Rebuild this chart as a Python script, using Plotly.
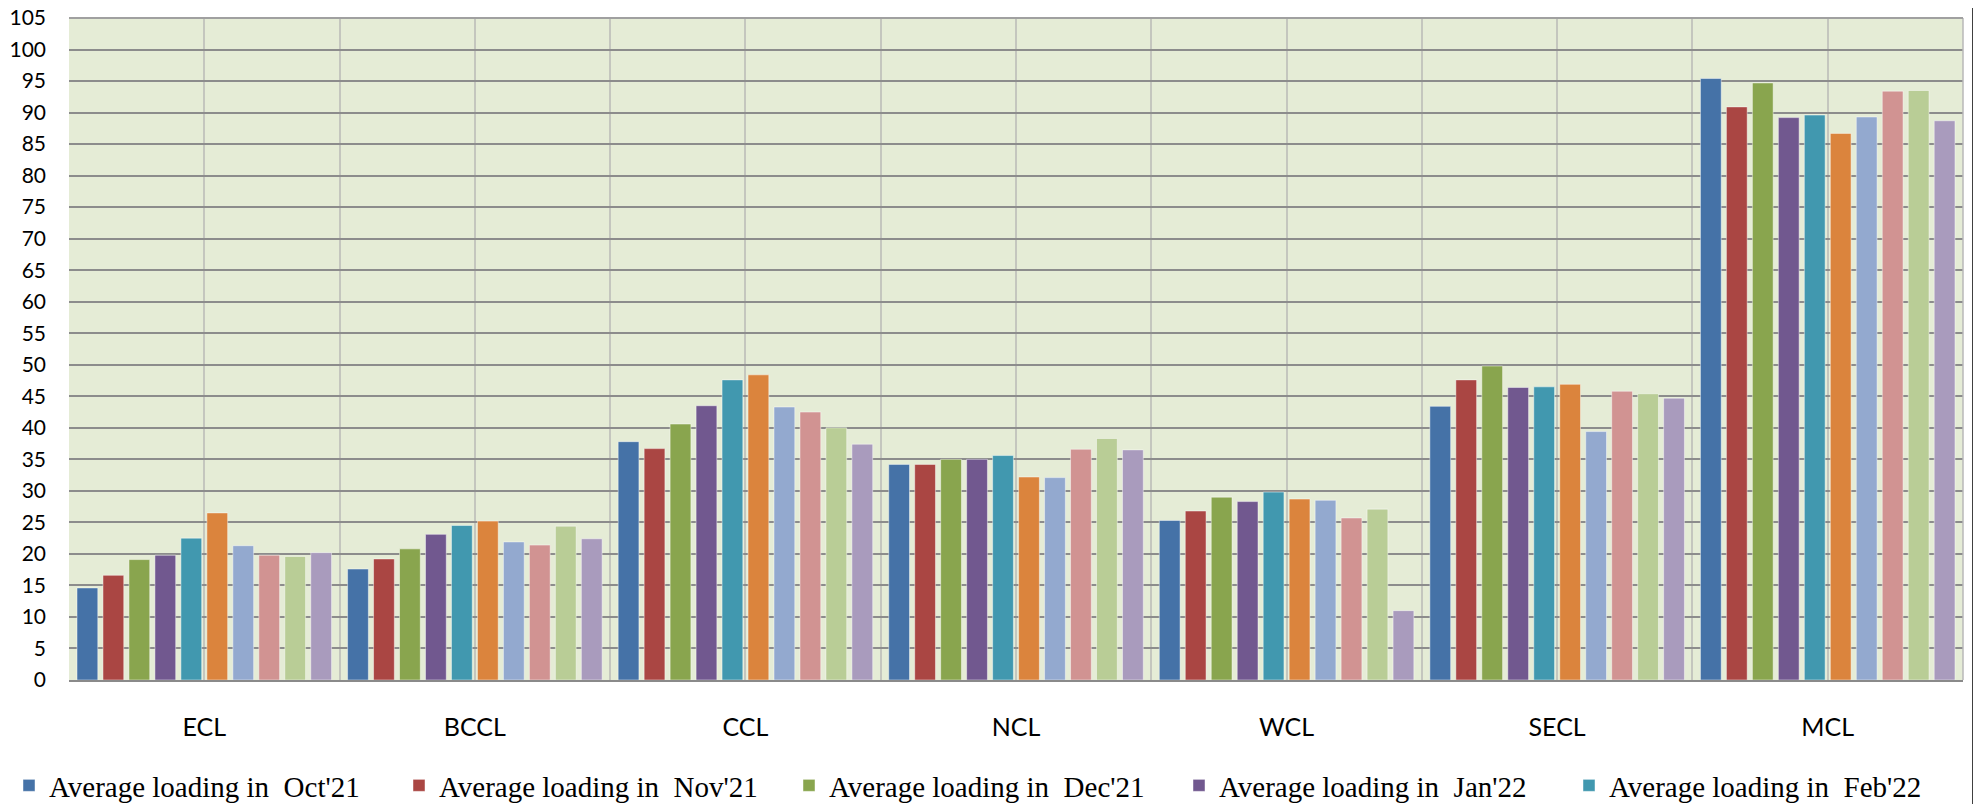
import plotly.graph_objects as go

companies = ["ECL", "BCCL", "CCL", "NCL", "WCL", "SECL", "MCL"]
months = ["Oct'21", "Nov'21", "Dec'21", "Jan'22", "Feb'22",
          "Mar'22", "Apr'22", "May'22", "Jun'22", "Jul'22"]
series_names = ["Average loading in  " + m for m in months]

oct21 = [14.6, 17.6, 37.8, 34.2, 25.3, 43.4, 95.4]
nov21 = [16.6, 19.2, 36.7, 34.2, 26.8, 47.6, 90.9]
dec21 = [19.1, 20.8, 40.6, 35.0, 29.0, 49.8, 94.7]
jan22 = [19.8, 23.1, 43.5, 35.0, 28.3, 46.4, 89.2]
feb22 = [22.5, 24.5, 47.6, 35.6, 29.8, 46.5, 89.6]
mar22 = [26.5, 25.2, 48.4, 32.2, 28.7, 46.9, 86.7]
apr22 = [21.3, 21.9, 43.3, 32.1, 28.5, 39.4, 89.3]
may22 = [19.8, 21.4, 42.5, 36.6, 25.7, 45.8, 93.4]
jun22 = [19.6, 24.4, 40.0, 38.3, 27.1, 45.4, 93.5]
jul22 = [20.2, 22.4, 37.4, 36.5, 11.0, 44.7, 88.7]
all_series = [oct21, nov21, dec21, jan22, feb22, mar22, apr22, may22, jun22, jul22]

colors = ["#4572A7", "#AA4643", "#89A54E", "#71588F", "#4198AF",
          "#DB843D", "#93A9CF", "#D19392", "#B9CD96", "#A99BBD"]

# page body has an 8px margin, so the figure is placed 8px in from the corner
W, H = 1973, 796
L, R, T, B = 61, 18, 10, 124
pw = W - L - R
ph = H - T - B

fig = go.Figure()
xpos = list(range(len(companies)))
for name, vals, col in zip(series_names, all_series, colors):
    fig.add_trace(go.Bar(
        x=xpos, y=vals, name=name,
        marker=dict(color=col, line=dict(color="rgba(255,255,255,0.45)", width=1)),
    ))

fig.update_layout(
    width=W, height=H,
    margin=dict(l=L, r=R, t=T, b=B, autoexpand=False),
    paper_bgcolor="white",
    plot_bgcolor="#E5ECD6",
    barmode="group",
    bargap=0.04,
    bargroupgap=0.2,
    showlegend=True,
    legend=dict(
        orientation="h",
        x=(1 - L) / pw, xanchor="left",
        y=(T + ph - 752) / ph, yanchor="top",
        font=dict(family="Liberation Serif", size=29, color="black"),
        entrywidth=345, entrywidthmode="pixels",
        bgcolor="rgba(0,0,0,0)",
        traceorder="normal",
    ),
    xaxis=dict(
        range=[-0.5, len(companies) - 0.5],
        tickmode="array", tickvals=xpos, ticktext=companies,
        showgrid=True, gridcolor="#C4C6BE", gridwidth=1.5,
        minor=dict(tick0=-0.5, dtick=1, showgrid=True, gridcolor="#C4C6BE", gridwidth=1.5),
        zeroline=False,
        showline=True, linecolor="#8A8A8A", linewidth=2,
        ticks="", ticklabelstandoff=24,
        tickfont=dict(family="Lato", size=25, color="black"),
        fixedrange=True,
    ),
    yaxis=dict(
        range=[0, 105], dtick=5, tick0=0,
        showgrid=True, gridcolor="#8C8C8C", gridwidth=1.5,
        zeroline=False,
        showline=False,
        ticks="", ticklabelstandoff=22,
        ticklabeloverflow="allow",
        tickfont=dict(family="Lato", size=21, color="black"),
        fixedrange=True,
    ),
    shapes=[
        dict(type="line", xref="paper", yref="paper",
             x0=1, x1=1, y0=0, y1=1, line=dict(color="#B8B8B8", width=1.5)),
        dict(type="line", xref="paper", yref="paper",
             x0=(1965 - L) / pw, x1=(1965 - L) / pw,
             y0=-B / ph - 0.1, y1=1 + T / ph + 0.1,
             line=dict(color="#404040", width=2)),
        dict(type="line", xref="paper", yref="paper",
             x0=0, x1=1, y0=1, y1=1, line=dict(color="#A0A0A0", width=2)),
    ],
)

fig.write_html("out.html")
